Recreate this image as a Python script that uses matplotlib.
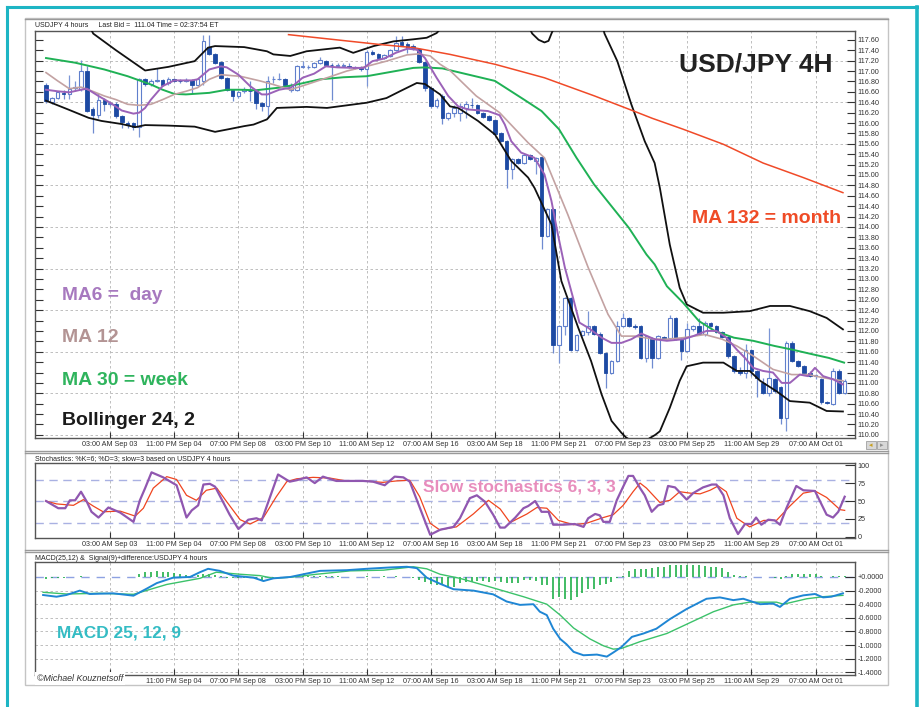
import numpy as np
import matplotlib.pyplot as plt
from matplotlib.patches import Rectangle
from matplotlib.lines import Line2D

plt.rcParams['font.family'] = ['Liberation Sans', 'DejaVu Sans']

# ---- candles (4h bars, index 0..137) ----
opens = [116.74, 116.41, 116.48, 116.58, 116.55, 116.68, 116.66, 117.01, 116.26, 116.16,
         116.45, 116.37, 116.37, 116.14, 116.00, 116.00, 115.92, 116.84, 116.75, 116.81,
         116.82, 116.76, 116.85, 116.81, 116.81, 116.82, 116.74, 116.80, 117.47, 117.32,
         117.17, 116.87, 116.64, 116.52, 116.61, 116.62, 116.61, 116.39, 116.32, 116.84,
         116.84, 116.84, 116.64, 116.64, 117.08, 117.07, 117.07, 117.16, 117.20, 117.12,
         117.10, 117.10, 117.09, 117.07, 117.08, 117.03, 117.37, 117.32, 117.25, 117.29,
         117.41, 117.56, 117.52, 117.49, 117.43, 117.18, 116.68, 116.32, 116.52, 116.10,
         116.20, 116.20, 116.29, 116.35, 116.34, 116.20, 116.13, 116.05, 115.81, 115.66,
         115.11, 115.31, 115.23, 115.38, 115.27, 115.34, 113.82, 114.34, 111.73, 112.09,
         112.64, 111.63, 111.93, 111.97, 112.09, 111.95, 111.58, 111.20, 111.42, 112.09,
         112.25, 112.09, 112.09, 111.48, 111.86, 111.48, 111.88, 111.87, 112.25, 111.84,
         111.61, 112.03, 112.09, 111.95, 112.16, 112.09, 111.97, 111.88, 111.52, 111.23,
         111.20, 111.63, 111.23, 111.00, 110.81, 111.07, 110.92, 110.33, 111.77, 111.42,
         111.32, 111.20, 111.13, 111.07, 110.63, 110.59, 111.23, 110.81]
highs = [116.76, 116.50, 116.62, 116.63, 116.93, 116.81, 117.22, 117.09, 116.30, 116.58,
         116.48, 116.40, 116.40, 116.16, 116.04, 116.02, 116.87, 116.87, 116.84, 117.06,
         116.84, 116.88, 116.87, 116.84, 116.86, 116.84, 116.86, 117.70, 117.70, 117.34,
         117.19, 116.89, 116.66, 116.62, 116.70, 116.80, 116.63, 116.41, 116.90, 116.90,
         116.96, 116.86, 116.76, 117.11, 117.20, 117.12, 117.18, 117.27, 117.22, 117.15,
         117.16, 117.16, 117.16, 117.10, 117.10, 117.40, 117.40, 117.34, 117.32, 117.43,
         117.67, 117.67, 117.55, 117.52, 117.45, 117.20, 116.70, 116.48, 116.55, 116.22,
         116.34, 116.38, 116.42, 116.49, 116.36, 116.22, 116.15, 116.07, 115.83, 115.68,
         115.33, 115.33, 115.41, 115.40, 115.35, 115.36, 114.36, 114.36, 112.11, 112.66,
         112.66, 111.95, 112.02, 112.38, 112.11, 111.97, 111.60, 111.44, 112.19, 112.35,
         112.27, 112.14, 112.11, 111.92, 111.88, 111.92, 111.90, 112.30, 112.27, 111.86,
         112.15, 112.11, 112.25, 112.19, 112.18, 112.11, 111.99, 111.90, 111.54, 111.30,
         111.74, 111.65, 111.25, 111.10, 112.06, 111.10, 110.95, 111.80, 111.80, 111.45,
         111.34, 111.22, 111.17, 111.09, 110.66, 111.28, 111.27, 111.08]
lows = [116.38, 116.37, 116.46, 116.46, 116.46, 116.62, 116.62, 116.22, 115.81, 116.10,
        116.23, 116.33, 116.10, 115.91, 115.91, 115.87, 115.73, 116.72, 116.72, 116.78,
        116.72, 116.74, 116.78, 116.77, 116.78, 116.58, 116.72, 116.74, 117.31, 117.14,
        116.85, 116.61, 116.42, 116.48, 116.58, 116.42, 116.26, 116.23, 116.10, 116.76,
        116.82, 116.71, 116.60, 116.62, 117.05, 117.04, 117.05, 117.14, 117.10, 116.45,
        117.07, 117.07, 117.06, 117.03, 117.01, 116.71, 117.30, 117.23, 117.23, 117.27,
        117.39, 117.49, 117.35, 117.40, 117.16, 116.62, 116.28, 116.28, 115.98, 116.06,
        116.12, 116.04, 116.10, 116.29, 116.18, 116.09, 116.03, 115.77, 115.64, 114.75,
        114.92, 115.21, 115.21, 115.28, 115.01, 113.57, 113.80, 111.58, 111.39, 111.93,
        111.61, 111.61, 111.91, 111.93, 111.93, 111.56, 110.91, 111.18, 111.40, 112.07,
        112.07, 112.03, 111.46, 111.40, 111.28, 111.46, 111.82, 111.85, 111.82, 111.45,
        111.59, 112.00, 111.93, 111.90, 112.07, 111.96, 111.86, 111.48, 111.20, 111.15,
        111.10, 111.13, 110.72, 110.78, 110.75, 110.80, 110.20, 110.07, 111.40, 111.30,
        111.18, 111.11, 111.08, 110.60, 110.59, 110.57, 110.79, 110.79]
closes = [116.42, 116.48, 116.59, 116.55, 116.66, 116.69, 117.01, 116.24, 116.16, 116.45,
          116.37, 116.38, 116.13, 116.02, 115.97, 115.92, 116.84, 116.75, 116.81, 116.82,
          116.74, 116.85, 116.81, 116.80, 116.83, 116.74, 116.84, 117.57, 117.33, 117.16,
          116.87, 116.64, 116.52, 116.60, 116.65, 116.61, 116.39, 116.32, 116.80, 116.85,
          116.85, 116.73, 116.74, 117.09, 117.09, 117.08, 117.15, 117.22, 117.12, 117.11,
          117.11, 117.11, 117.08, 117.05, 117.03, 117.37, 117.33, 117.25, 117.30, 117.41,
          117.54, 117.51, 117.45, 117.43, 117.18, 116.68, 116.32, 116.45, 116.10, 116.20,
          116.29, 116.32, 116.36, 116.34, 116.20, 116.11, 116.05, 115.79, 115.66, 115.11,
          115.31, 115.23, 115.39, 115.30, 115.33, 113.82, 114.34, 111.73, 112.09, 112.64,
          111.63, 111.93, 112.00, 112.09, 111.95, 111.58, 111.20, 111.42, 112.09, 112.25,
          112.09, 112.08, 111.48, 111.90, 111.48, 111.90, 111.84, 112.25, 111.84, 111.61,
          112.03, 112.09, 111.95, 112.16, 112.09, 111.97, 111.88, 111.52, 111.23, 111.20,
          111.63, 111.23, 111.10, 110.81, 111.10, 110.85, 110.33, 111.77, 111.42, 111.32,
          111.20, 111.13, 111.16, 110.63, 110.62, 111.23, 110.81, 111.04]

# ---- overlay lines (bar index, value) ----
ma6_x = [0, 2, 4, 6, 7, 9, 11, 13, 15, 16, 17, 18, 20, 22, 25, 26, 28, 30, 31, 33,
         35, 37, 38, 40, 42, 44, 46, 48, 50, 53, 54.5, 56, 58, 60, 62, 63.6, 65, 67, 69,
         70.7, 72.4, 75.8, 77.8, 78.7, 79.8, 81.5, 83.8, 85.5, 86.7, 87.8, 89, 90.4, 91.5,
         93, 95.3, 97, 98.7, 100.4, 102.1, 104.4, 106.5, 109.3, 111, 113.3, 115, 116.7,
         118.5, 119.9, 121.3, 123, 124.7, 126.2, 127.6, 129.3, 130.7, 131.9, 133.3, 135, 136.7]
ma6_y = [116.64, 116.61, 116.59, 116.64, 116.66, 116.52, 116.39, 116.24, 116.18, 116.20,
         116.29, 116.45, 116.71, 116.82, 116.82, 116.84, 117.03, 117.09, 117.07, 116.93,
         116.71, 116.55, 116.55, 116.64, 116.68, 116.87, 116.95, 117.09, 117.07, 117.06,
         117.06, 117.19, 117.24, 117.35, 117.43, 117.41, 117.25, 116.87, 116.52,
         116.32, 116.26, 116.23, 116.15, 115.97, 115.65, 115.43, 115.33, 115.01, 114.50,
         113.86, 113.22, 112.64, 112.16, 112.06, 111.87, 111.77, 111.77, 111.84, 111.95,
         111.84, 111.81, 111.84, 111.90, 112.00, 112.00, 111.87, 111.64, 111.48, 111.29,
         111.23, 111.20, 111.00, 111.00, 111.16, 111.13, 111.29, 111.13, 111.07, 110.97]
ma12_x = [0, 2, 4, 6, 8, 10, 12, 14, 16, 18, 20, 22, 24, 26, 28, 30, 32, 33.3, 36.7, 39,
          41.9, 44.7, 48.2, 51.6, 55, 58.4, 61.9, 63.9, 65.9, 67.6, 69.3, 73.8, 77.8, 82.7,
          85.5, 89.5, 93, 96.4, 98.7, 101, 104.4, 106.5, 109.3, 113, 116, 118.5, 121.3,
          124.7, 127.9, 130.7, 133.3, 136.7]
ma12_y = [116.97, 116.81, 116.66, 116.69, 116.61, 116.52, 116.45, 116.36, 116.34, 116.36,
          116.45, 116.55, 116.61, 116.68, 116.84, 116.93, 116.91, 116.90, 116.81, 116.74,
          116.64, 116.74, 116.87, 117.00, 117.09, 117.19, 117.31, 117.33, 117.29, 117.13,
          117.01, 116.52, 116.20, 115.62, 115.33, 114.24, 113.22, 112.32, 111.90, 111.90,
          111.84, 111.84, 111.87, 111.93, 111.84, 111.71, 111.52, 111.26, 111.16, 111.16,
          111.10, 111.04]
ma30_x = [0, 5, 10, 14, 18, 20, 22, 24, 28, 31, 33.3, 36, 40, 43, 47, 51, 55, 59, 63, 65,
          68, 77, 82, 85, 88, 91, 94, 97, 100, 103, 104.4, 106.5, 109.3, 112, 114.7, 118,
          121.3, 125, 128, 131.5, 134.3, 136.9]
ma30_y = [117.25, 117.16, 117.03, 116.90, 116.74, 116.64, 116.56, 116.55, 116.58, 116.64,
          116.64, 116.63, 116.68, 116.74, 116.84, 116.88, 116.90, 116.98, 117.06, 117.07,
          117.05, 116.81, 116.45, 116.23, 115.88, 115.33, 114.82, 114.40, 113.98, 113.47,
          113.28, 112.86, 112.54, 112.19, 112.00, 111.87, 111.81, 111.71, 111.64, 111.55,
          111.48, 111.39]
ma132_x = [41.6, 57.3, 63, 69.3, 77, 85.5, 94.1, 101.5, 104, 109.3, 116.2, 123, 129.9, 136.7]
ma132_y = [117.70, 117.51, 117.45, 117.32, 117.13, 116.87, 116.52, 116.20, 116.09, 115.88,
           115.59, 115.23, 114.95, 114.66]
bb_up_x = [7.5, 8.1, 12, 17, 21, 25.5, 27.8, 29, 34, 37.9, 39, 41.9, 44.7, 50.4, 52.7, 56.2,
           59.6, 63, 65.3, 67, 68, np.nan, 82.8, 83.4, 84.5, 85.5, 86.2, 86.7, 87.2, np.nan,
           95.5, 95.8, 98, 100.4, 102.7, 104.4, 105.3, 107, 108.7, 109.9, 112.7, 116.2, 120.7,
           124.2, 127.6, 131, 133.9, 136.7]
bb_up_y = [117.85, 117.72, 117.40, 117.01, 117.08, 117.19, 117.45, 117.48, 117.46, 117.38,
           117.32, 117.29, 117.38, 117.45, 117.35, 117.48, 117.57, 117.61, 117.64, 117.73,
           117.85, np.nan, 117.85, 117.72, 117.60, 117.55, 117.58, 117.72, 117.85, np.nan,
           117.85, 117.72, 117.19, 116.36, 115.65, 115.23, 114.75, 113.66, 112.83, 112.51,
           112.35, 112.35, 112.38, 112.48, 112.48, 112.38, 112.25, 112.03]
bb_lo_x = [0, 3.8, 7.3, 9.5, 13, 15.3, 17, 21, 25.5, 29, 31.3, 34, 35.6, 37.9, 39.6, 44.7,
           48.2, 51.6, 55, 58.4, 60.7, 63.6, 65, 67.6, 69.3, 70.7, 74.1, 77, 79.8, 82.7, 83.8,
           85.5, 86.7, 88.4, 91.3, 93.5, 95.3, 97, 98.7, 99.5, 101, 103, 104.5, 105.3, 107,
           108.7, 109.9, 112.7, 116.2, 118.5, 120.7, 122.5, 125.3, 127.6, 131, 133.9, 136.7]
bb_lo_y = [116.43, 116.26, 116.10, 116.04, 115.98, 115.92, 115.96, 115.95, 115.93, 115.83,
           115.88, 115.94, 115.97, 116.07, 116.29, 116.31, 116.29, 116.34, 116.39, 116.48,
           116.61, 116.77, 116.75, 116.55, 116.32, 116.29, 116.04, 115.78, 115.27, 114.95,
           114.75, 114.34, 114.05, 112.96, 112.06, 111.42, 110.78, 110.27, 110.04, 109.95,
           109.85, 109.90, 110.00, 110.07, 110.52, 111.04, 111.32, 111.39, 111.39, 111.23,
           111.23, 111.04, 110.84, 110.65, 110.62, 110.46, 110.45]

# ---- slow stochastics 6,3,3 ----
k_x = [0, 2.1, 3.3, 4.1, 5, 6, 7, 7.8, 9, 10.7, 12.7, 15, 16.1, 17, 18.1, 20.1, 22.4, 24.1,
       25, 26.1, 27, 28.1, 29, 31.5, 33, 34.7, 36.1, 37, 39.8, 41.8, 43, 44.7, 46.1, 47.5,
       49.8, 52.1, 54.4, 56.1, 58.1, 59.8, 61.3, 62.4, 65.9, 67.6, 69.9, 71, 72.7, 73.9,
       75.3, 76.7, 77.9, 78.7, 80.5, 81.9, 82.7, 83.9, 85, 86.2, 87, 88.7, 90.7, 92.2, 93,
       94.2, 95, 95.6, 96.7, 97.9, 99, 99.9, 100.7, 101.9, 102.7, 103.9, 105, 105.9, 106.7,
       107.9, 109.9, 111, 112.7, 114.2, 115, 116.2, 117.3, 118.7, 119.9, 121, 121.8, 122.7,
       123.9, 125, 125.9, 127, 128.7, 129.9, 131.9, 133.9, 135, 135.9, 137]
k_y = [50, 40, 40, 51, 51, 63, 49, 35, 27, 41, 34, 21, 51, 68, 90, 83, 72, 27,
       37, 44, 73, 74, 70, 31, 11, 24, 26, 23, 87, 77, 79, 83, 75, 84,
       78, 78, 78, 77, 72, 84, 83, 77, 3, 10, 14, 26, 54, 58,
       49, 31, 13, 13, 27, 40, 43, 50, 35, 35, 17, 17, 18, 14, 26,
       32, 30, 21, 21, 51, 70, 85, 85, 68, 58, 35, 44, 46, 71,
       69, 52, 61, 69, 73, 73, 58, 26, 4, 18, 18, 27, 17,
       24, 23, 17, 40, 71, 65, 64, 31, 27, 35, 56]
d_x = [0, 1.8, 4.7, 6.4, 8.1, 9.8, 12.7, 15.3, 16.7, 18.4, 20.7, 22.4, 24.1, 25.8, 27.5,
       29.3, 31, 33.3, 35, 37.3, 39.5, 41.3, 43, 45.8, 48.7, 51.5, 54.4, 57.8, 60.1, 62.4,
       64.1, 65.9, 67.5, 70.4, 73.3, 75.9, 77.9, 79.6, 82.5, 84.2, 85.9, 87.9, 90.5, 92.7,
       95.6, 97.3, 99, 100.7, 101.9, 103, 105.3, 107, 108.7, 110.5, 112.2, 113.9, 115.3,
       116.7, 118.5, 120.7, 123.1, 125.3, 127.6, 129.9, 131.9, 133.9, 136.2, 137]
d_y = [50, 46, 44, 52, 43, 35, 36, 29, 40, 68, 84, 80, 58, 51, 65,
       68, 49, 24, 18, 27, 56, 77, 81, 83, 82, 78, 78, 76, 78, 79,
       56, 19, 10, 14, 32, 51, 39, 20, 32, 41, 40, 23, 17, 19,
       27, 31, 44, 63, 75, 68, 48, 51, 63, 61, 60, 65, 71,
       63, 26, 14, 23, 23, 43, 61, 64, 55, 38, 37]

# ---- MACD 25,12,9 ----
macd_x = [-0.5, 1.8, 3.5, 5.8, 7.5, 11.5, 15, 17.3, 19, 21.8, 24.7, 26.4, 27.8, 29.8, 32.1,
          35.6, 37.3, 39, 41.9, 44.7, 47, 51.6, 55, 59, 61.9, 63.6, 65.3, 67.6, 69.9, 73.3,
          76.7, 79, 81.3, 83.6, 84.7, 85.9, 87, 88.2, 89.3, 90.5, 92.2, 94.5, 96.2, 97.3,
          98.7, 100.5, 102.5, 104.7, 107, 109.9, 113.3, 115.6, 117.9, 119.6, 122.5, 124.7,
          125.9, 127.6, 129.9, 131.9, 133.3, 134.7, 136.7]
macd_y = [-0.265, -0.29, -0.265, -0.20, -0.25, -0.24, -0.275, -0.17, -0.09, -0.01, 0.0, 0.07,
          0.12, 0.09, 0.02, -0.01, -0.06, -0.02, 0.0, 0.05, 0.09, 0.10, 0.12, 0.14, 0.15, 0.13,
          -0.01, -0.10, -0.18, -0.20, -0.255, -0.36, -0.41, -0.40, -0.51, -0.56, -0.76, -0.91,
          -0.99, -1.10, -1.15, -1.14, -1.17, -1.11, -1.03, -0.88, -0.83, -0.76, -0.62, -0.47,
          -0.32, -0.30, -0.34, -0.32, -0.40, -0.39, -0.44, -0.32, -0.27, -0.25, -0.30, -0.29,
          -0.24]
sig_x = [-0.5, 3.5, 9.2, 15, 20.7, 26.4, 29.2, 33.3, 36.7, 39, 42.4, 46.4, 52.2, 57.9, 63,
         65.3, 67.6, 71, 76.7, 81.9, 85.9, 88.2, 90.5, 93.3, 95.6, 97.3, 98.7, 101.9, 106.5,
         111, 114.5, 117.9, 120.7, 125.3, 126.5, 130.5, 133.3, 136.7]
sig_y = [-0.225, -0.25, -0.24, -0.255, -0.11, -0.02, 0.07, 0.04, 0.02, -0.02, 0.0, 0.04, 0.09,
         0.10, 0.15, 0.12, 0.04, -0.02, -0.16, -0.29, -0.40, -0.56, -0.75, -0.91, -1.01, -1.06,
         -1.05, -0.95, -0.83, -0.65, -0.51, -0.41, -0.37, -0.37, -0.40, -0.32, -0.29, -0.27]
hist = [-0.03, -0.01, -0.01, -0.01, 0.0, 0.0, 0.02, 0.0, 0.005, -0.005,
        0.0, 0.005, 0.0, -0.005, 0.0, 0.005, 0.04, 0.07, 0.08, 0.09,
        0.08, 0.07, 0.06, 0.04, 0.03, 0.02, 0.03, 0.04, 0.05, 0.03,
        0.02, -0.01, -0.02, -0.02, -0.02, -0.02, -0.03, -0.04, -0.02, -0.01,
        0.0, 0.0, 0.005, 0.005, 0.01, 0.02, 0.02, 0.02, 0.01, 0.01,
        0.01, 0.0, 0.005, 0.0, 0.005, 0.01, 0.0, 0.005, 0.01, 0.0,
        0.01, 0.005, 0.0, -0.02, -0.05, -0.08, -0.10, -0.12, -0.10, -0.14,
        -0.14, -0.09, -0.07, -0.07, -0.06, -0.06, -0.07, -0.06, -0.07, -0.09,
        -0.09, -0.09, -0.05, -0.04, -0.06, -0.12, -0.12, -0.32, -0.30, -0.32,
        -0.34, -0.29, -0.24, -0.17, -0.17, -0.12, -0.11, -0.07, -0.01, 0.01,
        0.09, 0.12, 0.12, 0.12, 0.13, 0.14, 0.15, 0.17, 0.17, 0.17,
        0.17, 0.17, 0.17, 0.16, 0.15, 0.15, 0.13, 0.08, 0.03, 0.015,
        0.01, 0.0, 0.0, -0.005, 0.0, -0.01, -0.03, 0.02, 0.05, 0.05,
        0.05, 0.05, 0.04, 0.02, 0.0, 0.02, 0.02, 0.02]

tick_pos = [11, 22, 33, 44, 55, 66, 77, 88, 99, 110, 121, 132]
tick_lbl = ["03:00 AM Sep 03", "11:00 PM Sep 04", "07:00 PM Sep 08", "03:00 PM Sep 10",
            "11:00 AM Sep 12", "07:00 AM Sep 16", "03:00 AM Sep 18", "11:00 PM Sep 21",
            "07:00 PM Sep 23", "03:00 PM Sep 25", "11:00 AM Sep 29", "07:00 AM Oct 01"]

W, H = 919, 707
fig = plt.figure(figsize=(W / 100, H / 100), dpi=100)

def fx(px):
    return px / W

def fy(py):
    return 1 - py / H

grid_kw = dict(color='#b4b4b4', lw=0.6, linestyle=(0, (3, 3)), zorder=0)
XL = (-1.89, 138.77)

def style(ax):
    for s in ax.spines.values():
        s.set_color('#555555')
        s.set_linewidth(1.0)
    ax.set_xlim(*XL)
    ax.yaxis.tick_right()
    ax.tick_params(axis='y', direction='in', length=7, labelsize=5.2, pad=2,
                   colors='#333333', left=False, right=True)
    ax.set_xticks(tick_pos)
    ax.tick_params(axis='x', direction='in', length=4, labelsize=5.2, pad=2,
                   colors='#333333')
    for p in tick_pos:
        ax.axvline(p, **grid_kw)

# ---------- main price panel ----------
ax = fig.add_axes([fx(35), fy(438), 820 / W, (438 - 31) / H])
style(ax)
ax.set_xticklabels(tick_lbl)
ax.set_ylim(109.94, 117.77)
yt = np.round(np.arange(110.0, 117.61, 0.2), 2)
ax.set_yticks(yt)
ax.set_yticklabels(['%.2f' % v for v in yt])
ax.tick_params(axis='y', left=True, length=6)
for v in np.arange(110.0, 117.7, 0.8):
    ax.axhline(v, **grid_kw)

o = np.array(opens); h = np.array(highs); l = np.array(lows); c = np.array(closes)
idx = np.arange(len(o))
up = c >= o
ax.vlines(idx[up], l[up], h[up], color='#7b96d6', lw=0.9, zorder=3)
ax.vlines(idx[~up], l[~up], h[~up], color='#6f8bd0', lw=0.9, zorder=3)
ax.bar(idx[up], np.maximum(c[up] - o[up], 0.015), bottom=o[up], width=0.62,
       facecolor='white', edgecolor='#5f7fcc', lw=0.8, zorder=4)
ax.bar(idx[~up], np.maximum(o[~up] - c[~up], 0.015), bottom=c[~up], width=0.62,
       facecolor='#1d4aa3', edgecolor='#1d4aa3', lw=0.6, zorder=4)

ax.plot(bb_up_x, bb_up_y, color='#111111', lw=1.3, zorder=5)
ax.plot(bb_lo_x, bb_lo_y, color='#111111', lw=1.3, zorder=5)
ax.plot(ma132_x, ma132_y, color='#f04a28', lw=1.1, zorder=5)
ax.plot(ma30_x, ma30_y, color='#1fb155', lw=1.4, zorder=5)
ax.plot(ma12_x, ma12_y, color='#c3a2a2', lw=1.2, zorder=5)
ax.plot(ma6_x, ma6_y, color='#9b62b8', lw=1.4, zorder=6)

# ---------- stochastics panel ----------
ax2 = fig.add_axes([fx(35), fy(538), 820 / W, 75 / H])
style(ax2)
ax2.set_xticklabels(tick_lbl)
ax2.set_ylim(-1.5, 103)
ax2.set_yticks([0, 25, 50, 75, 100])
for v in (80, 50, 20):
    ax2.axhline(v, color='#a9b1e2', lw=1.0, linestyle=(0, (6, 4)), zorder=1)
ax2.plot(d_x, d_y, color='#f0451f', lw=0.9, zorder=3)
ax2.plot(k_x, k_y, color='#9057b0', lw=1.6, zorder=4)

# ---------- MACD panel ----------
ax3 = fig.add_axes([fx(35), fy(675), 820 / W, 113 / H])
style(ax3)
ax3.set_xticklabels([''] + tick_lbl[1:])
ax3.set_ylim(-1.44, 0.22)
mt = [0.0, -0.2, -0.4, -0.6, -0.8, -1.0, -1.2, -1.4]
ax3.set_yticks(mt)
ax3.set_yticklabels(['+0.0000'] + ['%.4f' % v for v in mt[1:]])
for v in mt[1:]:
    ax3.axhline(v, **grid_kw)
ax3.axhline(0, color='#8ea2e2', lw=1.0, linestyle=(0, (6, 5)), zorder=1)
ax3.vlines(np.arange(len(hist)), 0, hist, color='#21b04a', lw=1.2, zorder=2)
ax3.plot(sig_x, sig_y, color='#3cc26a', lw=1.0, zorder=3)
ax3.plot(macd_x, macd_y, color='#1f86d4', lw=1.4, zorder=4)

# ---------- headers ----------
hdr = dict(fontsize=5, color='#222222', va='baseline')
fig.text(fx(35), fy(27), 'USDJPY 4 hours     Last Bid =  111.04 Time = 02:37:54 ET', **hdr)
fig.text(fx(35), fy(460), 'Stochastics: %K=6; %D=3; slow=3 based on USDJPY 4 hours', **hdr)
fig.text(fx(35), fy(560), 'MACD(25,12) &  Signal(9)+difference:USDJPY 4 hours', **hdr)

# ---------- annotations ----------
fig.text(fx(679), fy(71), 'USD/JPY 4H', fontsize=19, fontweight='bold', color='#222222', va='baseline')
fig.text(fx(692), fy(223), 'MA 132 = month', fontsize=14, fontweight='bold', color='#ef4b26', va='baseline')
fig.text(fx(62), fy(300), 'MA6 =  day', fontsize=13.8, fontweight='bold', color='#a779bf', va='baseline')
fig.text(fx(62), fy(342), 'MA 12', fontsize=14, fontweight='bold', color='#b39494', va='baseline')
fig.text(fx(62), fy(385), 'MA 30 = week', fontsize=14, fontweight='bold', color='#2fb45d', va='baseline')
fig.text(fx(62), fy(425), 'Bollinger 24, 2', fontsize=14, fontweight='bold', color='#1a1a1a', va='baseline')
fig.text(fx(423), fy(492), 'Slow stochastics 6, 3, 3', fontsize=12.4, fontweight='bold',
         color='#e88dbd', va='baseline')
fig.text(fx(57), fy(638), 'MACD 25, 12, 9', fontsize=12.4, fontweight='bold', color='#34bcc4', va='baseline')
fig.text(fx(37), fy(681), '\u00a9Michael Kouznetsoff', fontsize=6.4, style='italic', color='#333333',
         va='baseline', bbox=dict(facecolor='white', edgecolor='none', pad=1.2))

# ---------- frames / separators ----------
fig.patches.append(Rectangle((fx(25), fy(685)), fx(888) - fx(25), (685 - 18) / H,
                             transform=fig.transFigure, fill=False, edgecolor='#c4c4c4', lw=1.0))
for yy in (19, 451, 453, 550, 552):
    fig.lines.append(Line2D([fx(25), fx(888)], [fy(yy), fy(yy)], transform=fig.transFigure,
                            color='#9a9a9a', lw=1.0))
# small scroll buttons under the price axis
for bx in (866, 877):
    fig.patches.append(Rectangle((fx(bx), fy(449)), 10 / W, 8 / H, transform=fig.transFigure,
                                 facecolor='#d8d8d8', edgecolor='#a0a0a0', lw=0.6))
fig.text(fx(871), fy(447), '\u25c2', fontsize=5, color='#c8a020', ha='center', va='baseline')
fig.text(fx(882), fy(447), '\u25b8', fontsize=5, color='#909090', ha='center', va='baseline')

teal = '#1db5c4'
fig.lines.append(Line2D([fx(7), fx(7)], [fy(7), 0], transform=fig.transFigure, color=teal, lw=2.2))
fig.lines.append(Line2D([fx(7), fx(917)], [fy(7), fy(7)], transform=fig.transFigure, color=teal, lw=2.2))
fig.lines.append(Line2D([fx(916.5), fx(916.5)], [fy(7), 0], transform=fig.transFigure, color=teal, lw=2.6))

fig.savefig('out.png', dpi=100)
